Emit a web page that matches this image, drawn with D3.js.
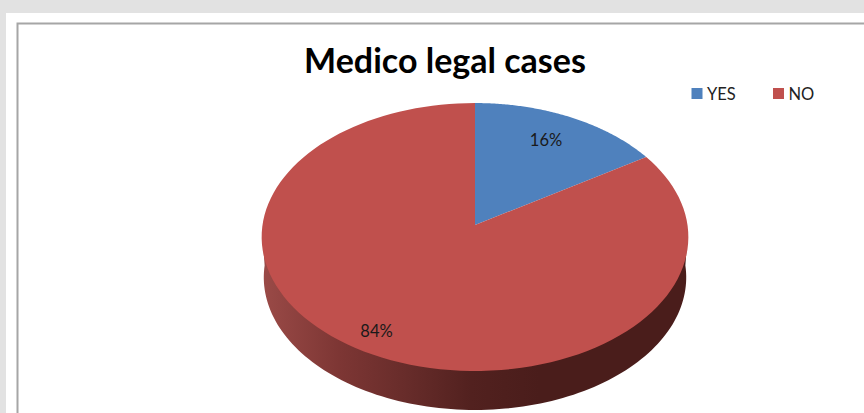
<!DOCTYPE html>
<html>
<head>
<meta charset="utf-8">
<script src="https://cdn.jsdelivr.net/npm/d3@7"></script>
<style>
html,body{margin:0;padding:0;background:#e2e2e2;overflow:hidden}
svg{display:block}
text{font-family:Lato,"Open Sans",sans-serif}
</style>
</head>
<body>
<svg id="c" width="864" height="413"></svg>
<script>
const categories = ["YES", "NO"];
const values = [16, 84];
const labels = ["16%", "84%"];
const colors = ["#4f81bd", "#c0504d"];
const titleText = "Medico legal cases";

const svg = d3.select("#c");
// page and chart frame
svg.append("rect").attr("x",6).attr("y",13).attr("width",858).attr("height",400).attr("fill","#fff");
svg.append("path").attr("d","M17.5,413V23.5H864").attr("fill","none").attr("stroke","#a6a6a6").attr("stroke-width",2);

// perspective projection of the disc onto the page
const persp = -0.0896, ay = 132.9, bx = 212.5;
function project(angle, r, s, y0){
  const u = r*Math.sin(angle), v = -r*Math.cos(angle), w = 1 + persp*v;
  return [475 + s*bx*u/w, y0 + s*ay*v/w];
}
const angleSamples = (a0,a1) => d3.range(0,121).map(i => a0 + (a1-a0)*i/120);
const line = d3.line();

const defs = svg.append("defs");
const grad = defs.append("linearGradient").attr("id","side")
  .attr("gradientUnits","userSpaceOnUse").attr("x1",263).attr("x2",688).attr("y1",0).attr("y2",0);
[[0,"#9a4a47"],[0.18,"#7d3634"],[0.34,"#672c2a"],[0.49,"#52211f"],[0.65,"#4a1d1b"],[1,"#4a1d1b"]]
  .forEach(d => grad.append("stop").attr("offset",d[0]).attr("stop-color",d[1]));

// side wall
const topY = 225, botS = 0.99, botY = 410 - botS*146;
const wall = angleSamples(Math.PI*0.5, Math.PI*1.5).map(a => project(a,1,botS,botY));
const wallPts = [project(Math.PI*0.5,1,1,topY+11), ...wall, project(Math.PI*1.5,1,1,topY+11)];
svg.append("path").attr("d", line(wallPts)+"Z").attr("fill","url(#side)");

// slices
const arcs = d3.pie().sort(null).value(d=>d)(values);
svg.selectAll("path.slice").data(arcs).join("path").attr("class","slice")
  .attr("d", d => line([project(0,0,1,topY), ...angleSamples(d.startAngle,d.endAngle).map(a=>project(a,1,1,topY))])+"Z")
  .attr("fill",(d,i)=>colors[i]);

// data labels
const labelPos = [[546,145.5],[376.5,337]];
svg.selectAll("text.lab").data(labels).join("text").attr("class","lab")
  .attr("x",(d,i)=>labelPos[i][0]).attr("y",(d,i)=>labelPos[i][1])
  .attr("text-anchor","middle").attr("font-size",16.5).attr("fill","#1a1a1a").text(d=>d);

// title
svg.append("text").attr("x",445).attr("y",72.5).attr("text-anchor","middle")
  .attr("font-size",34).attr("font-weight",700).attr("fill","#000").text(titleText);

// legend
const legendX = d3.scaleOrdinal().domain(categories).range([691.5,773]);
const lg = svg.selectAll("g.lg").data(categories).join("g").attr("class","lg")
  .attr("transform",d=>`translate(${legendX(d)},88)`);
lg.append("rect").attr("width",11).attr("height",11).attr("fill",(d,i)=>colors[i]);
lg.append("text").attr("x",15.5).attr("y",12).attr("font-size",16.5).attr("fill","#222").text(d=>d);
</script>
</body>
</html>
